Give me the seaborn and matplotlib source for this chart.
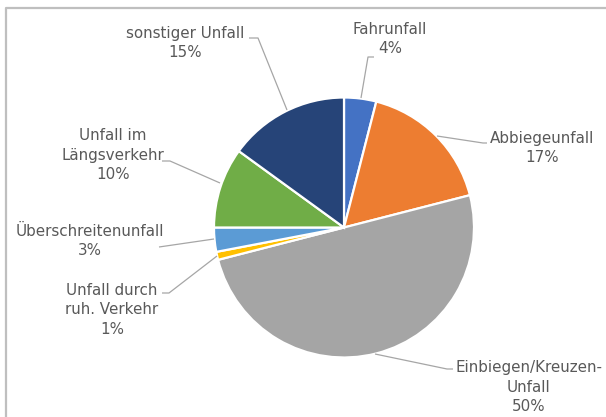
import matplotlib
matplotlib.use("Agg")
import matplotlib.pyplot as plt
import seaborn as sns

sns.set_theme(style="white")
plt.rcParams["font.family"] = ["DejaVu Sans"]

# Unfalltypen und Anteile (%)
categories = [
    "Fahrunfall",
    "Abbiegeunfall",
    "Einbiegen/Kreuzen-\nUnfall",
    "Unfall durch\nruh. Verkehr",
    "Überschreitenunfall",
    "Unfall im\nLängsverkehr",
    "sonstiger Unfall",
]
shares = [4, 17, 50, 1, 3, 10, 15]
colors = ["#4472C4", "#ED7D31", "#A5A5A5", "#FFC000", "#5B9BD5", "#70AD47", "#264478"]

W, H = 606, 417
fig = plt.figure(figsize=(W / 100, H / 100), dpi=100)
ax = fig.add_axes([0, 0, 1, 1])


def Y(y):
    # top-down pixel row to axis y
    return H - y


cx, cy, r = 344, 227.5, 130
ax.pie(
    shares,
    colors=colors,
    startangle=90,
    counterclock=False,
    center=(cx, Y(cy)),
    radius=r,
    wedgeprops=dict(edgecolor="white", linewidth=1.6),
    frame=True,
)
ax.set_xlim(0, W)
ax.set_ylim(0, H)
ax.set_aspect("equal")
ax.axis("off")

# label block centres and leader-line paths (pixel rows from top)
label_pos = [
    (390, 39),
    (542, 148),
    (529, 387),
    (112, 310),
    (90, 241),
    (113, 155),
    (185, 43),
]
leaders = [
    [(361, 98), (368, 57), (374, 57)],
    [(437, 136), (483, 143), (487, 143)],
    [(375, 354), (447, 369), (453, 369)],
    [(217, 256), (169, 293), (162, 293)],
    [(214, 239), (159, 247)],
    [(220, 183), (170, 161), (162, 161)],
    [(287, 110), (258, 38), (249, 38)],
]

for name, val, (lx, ly), path in zip(categories, shares, label_pos, leaders):
    ax.text(lx, Y(ly), f"{name}\n{val}%", ha="center", va="center",
            fontsize=10.9, color="#595959", linespacing=1.38)
    xs = [p[0] for p in path]
    ys = [Y(p[1]) for p in path]
    ax.plot(xs, ys, color="#A6A6A6", linewidth=0.9, solid_capstyle="butt")

# chart-area frame
ax.plot([5.5, 5.5, W + 5], [-5, Y(7.5), Y(7.5)], color="#BFBFBF", linewidth=1.6,
        clip_on=False)

fig.savefig("out.png", dpi=100, facecolor="white")
